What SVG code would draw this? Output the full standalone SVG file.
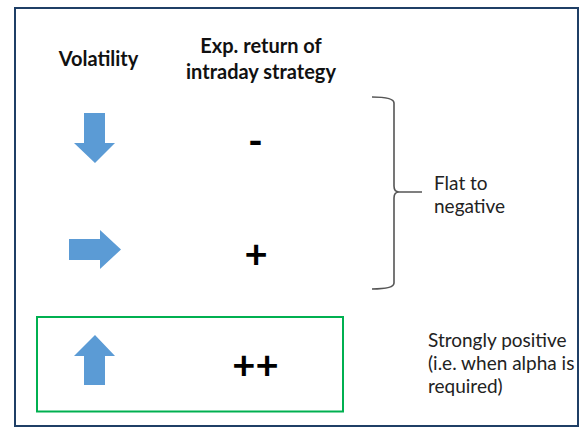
<svg xmlns="http://www.w3.org/2000/svg" width="587" height="428" viewBox="0 0 587 428">
<style>
.h{font-family:Lato,"Open Sans",sans-serif;font-weight:bold;font-size:20px;fill:#111;text-anchor:middle}
.s{font-family:Lato,"Open Sans",sans-serif;font-weight:bold;font-size:40px;fill:#000;text-anchor:middle}
.t{font-family:Lato,"Open Sans",sans-serif;font-size:19px;fill:#222}
.t2{font-family:Lato,"Open Sans",sans-serif;font-size:19px;fill:#222}
.arr{fill:#5b9bd5}
</style>
<rect width="587" height="428" fill="#fff"/>
<g id="frame"><rect x="15" y="8" width="563" height="418" fill="none" stroke="#1f3f66" stroke-width="2"/></g>
<g id="header-volatility"><text class="h" x="98.5" y="66">Volatility</text></g>
<g id="header-return"><text class="h" x="261" y="53">Exp. return of</text><text class="h" x="261" y="79">intraday strategy</text></g>
<g id="row-down">
<polygon class="arr" points="84,113 105,113 105,143 115,143 95,163 74,143 84,143"/>
<text class="s" x="255.5" y="155">-</text>
</g>
<g id="row-flat">
<polygon class="arr" points="69,239 100,239 100,230 121,249.5 100,269 100,260 69,260"/>
<text class="s" x="256" y="268">+</text>
</g>
<g id="row-up">
<rect x="37" y="317" width="306" height="94.5" fill="none" stroke="#00b050" stroke-width="2"/>
<polygon class="arr" points="95,335 115,356 105,356 105,385 84,385 84,356 74,356"/>
<text class="s" x="255.5" y="379">++</text>
</g>
<g id="connectors">
<path d="M372,97 Q394,97 394,103 L394,186 Q394,192 399,192 L422,192 M399,192 Q394,192 394,198 L394,283 Q394,289 372,289" fill="none" stroke="#555" stroke-width="1.6"/>
</g>
<g id="label-flat"><text class="t" x="434" y="190">Flat to</text><text class="t" x="434" y="213">negative</text></g>
<g id="label-strong"><text class="t2" x="428" y="347">Strongly positive</text><text class="t2" x="428" y="370">(i.e. when alpha is</text><text class="t2" x="428" y="393">required)</text></g>
</svg>
